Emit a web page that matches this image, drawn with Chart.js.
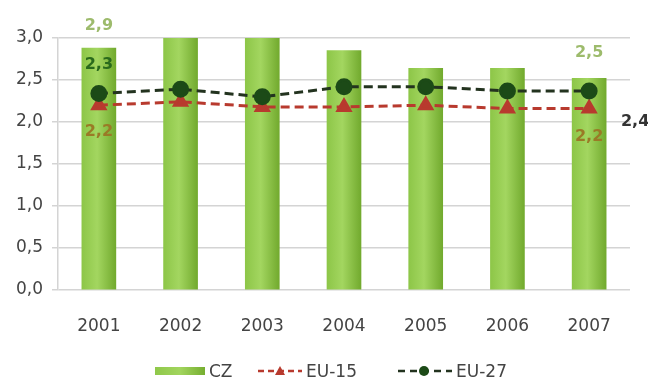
<!DOCTYPE html>
<html>
<head>
<meta charset="utf-8">
<script src="https://cdn.jsdelivr.net/npm/chart.js@4.4.1/dist/chart.umd.min.js"></script>
<style>
  html, body { margin: 0; padding: 0; background: #fff; }
  #wrap { position: relative; width: 648px; height: 385px; }
  #legend { font: 17px "DejaVu Sans", sans-serif; color: #444; }
  #legend .item { position: absolute; top: 361px; height: 20px; display: flex; align-items: center; }
  #legend svg { margin-right: 4px; }
</style>
</head>
<body>
<div id="wrap">
  <canvas id="chart" width="648" height="385"></canvas>
  <div id="legend">
    <span class="item" style="left:155px">
      <svg width="50" height="10"><defs><linearGradient id="lg" x1="0" x2="1"><stop offset="0" stop-color="#8fc84a"/><stop offset="0.5" stop-color="#a2d55e"/><stop offset="1" stop-color="#76ae30"/></linearGradient></defs><rect x="0" y="1" width="50" height="8" fill="url(#lg)"/></svg>CZ
    </span>
    <span class="item" style="left:258px">
      <svg width="44" height="12"><line x1="0" y1="6" x2="44" y2="6" stroke="#b83a2e" stroke-width="2.5" stroke-dasharray="6,4"/><polygon points="22,1 27,10 17,10" fill="#b83a2e"/></svg>EU-15
    </span>
    <span class="item" style="left:398px">
      <svg width="54" height="12"><line x1="0" y1="6" x2="54" y2="6" stroke="#23331f" stroke-width="2.5" stroke-dasharray="7,5"/><circle cx="26" cy="6" r="5" fill="#1c4a17"/></svg>EU-27
    </span>
  </div>
</div>
<script>
const years = ['2001', '2002', '2003', '2004', '2005', '2006', '2007'];
const czValues = [2.88, 3.0, 3.0, 2.85, 2.64, 2.64, 2.52];
const eu15Values = [2.2, 2.24, 2.18, 2.18, 2.2, 2.16, 2.16];
const eu27Values = [2.34, 2.39, 2.3, 2.42, 2.42, 2.37, 2.37];
const yTicks = [0, 0.5, 1.0, 1.5, 2.0, 2.5, 3.0];

const FONT = '"DejaVu Sans", sans-serif';
const fmt = v => v.toFixed(1).replace('.', ',');

// value labels: dataset index, point index, offset from the mark, colour
const valueLabels = [
  { ds: 0, i: 0, dx: 0, dy: -22, color: '#9dbb6c' },
  { ds: 0, i: 6, dx: 0, dy: -25, color: '#9dbb6c' },
  { ds: 2, i: 0, dx: 0, dy: -29, color: '#2a6a1c' },
  { ds: 1, i: 0, dx: 0, dy: 27, color: '#9a7a26' },
  { ds: 1, i: 6, dx: 0, dy: 28, color: '#9a7a26' },
  { ds: 2, i: 6, dx: 46, dy: 31, color: '#333' }
];

const labelPlugin = {
  id: 'valueLabels',
  afterDatasetsDraw(chart) {
    const ctx = chart.ctx;
    ctx.save();
    ctx.font = 'bold 16px ' + FONT;
    ctx.textAlign = 'center';
    ctx.textBaseline = 'middle';
    valueLabels.forEach(l => {
      const el = chart.getDatasetMeta(l.ds).data[l.i];
      const v = chart.data.datasets[l.ds].data[l.i];
      ctx.fillStyle = l.color;
      ctx.fillText(fmt(v), el.x + l.dx, el.y + l.dy);
    });
    ctx.restore();
  }
};

function barFill(c) {
  const chart = c.chart;
  if (!chart.chartArea) return '#8cc43f';
  const x = chart.scales.x.getPixelForValue(c.dataIndex);
  const g = chart.ctx.createLinearGradient(x - 17, 0, x + 17, 0);
  g.addColorStop(0, '#8dc648');
  g.addColorStop(0.45, '#a3d660');
  g.addColorStop(1, '#72aa2e');
  return g;
}

new Chart(document.getElementById('chart'), {
  type: 'bar',
  data: {
    labels: years,
    datasets: [
      {
        label: 'CZ',
        data: czValues,
        backgroundColor: barFill,
        barThickness: 34,
        order: 3
      },
      {
        type: 'line',
        label: 'EU-15',
        data: eu15Values,
        borderColor: '#b83a2e',
        borderWidth: 3,
        borderDash: [9, 5],
        pointStyle: 'triangle',
        pointRadius: 7,
        pointBackgroundColor: '#b83a2e',
        pointBorderColor: '#b83a2e',
        tension: 0,
        order: 2
      },
      {
        type: 'line',
        label: 'EU-27',
        data: eu27Values,
        borderColor: '#23331f',
        borderWidth: 3,
        borderDash: [9, 5],
        pointStyle: 'circle',
        pointRadius: 7,
        pointBackgroundColor: '#1c4a17',
        pointBorderColor: '#1c4a17',
        tension: 0,
        order: 1
      }
    ]
  },
  options: {
    responsive: false,
    animation: false,
    layout: { padding: { top: 38, right: 18, bottom: 45, left: 0 } },
    plugins: {
      legend: { display: false },
      tooltip: { enabled: false }
    },
    scales: {
      x: {
        grid: { display: false },
        border: { display: false },
        ticks: {
          color: '#444',
          padding: 18,
          font: { family: FONT, size: 17 }
        },
        afterFit: s => { s.height = 50; }
      },
      y: {
        min: 0,
        max: 3,
        afterBuildTicks: s => { s.ticks = yTicks.map(v => ({ value: v })); },
        grid: { color: '#d4d4d4', lineWidth: 1.5, tickLength: 6 },
        border: { color: '#d4d4d4', width: 1.5 },
        ticks: {
          color: '#444',
          padding: 9,
          callback: v => fmt(v),
          font: { family: FONT, size: 17 }
        },
        afterFit: s => { s.width = 58; }
      }
    }
  },
  plugins: [labelPlugin]
});
</script>
</body>
</html>
